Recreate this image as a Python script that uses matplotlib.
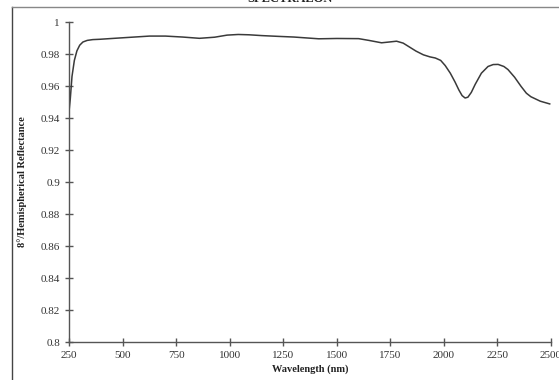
import matplotlib
matplotlib.use("Agg")
import matplotlib.pyplot as plt
from matplotlib.lines import Line2D

wavelength = [250, 256, 264, 275, 287, 300, 315, 335, 361, 394, 450, 520, 626, 700, 780, 859,
              930, 988, 1040, 1091, 1150, 1230, 1300, 1416, 1500, 1602, 1650, 1709, 1745, 1779,
              1810, 1834, 1870, 1904, 1935, 1960, 1985, 2006, 2030, 2052, 2070, 2085, 2099,
              2112, 2128, 2146, 2175, 2206, 2230, 2253, 2280, 2299, 2330, 2360, 2385, 2406,
              2450, 2494]
reflectance = [0.944, 0.952, 0.966, 0.976, 0.982, 0.9855, 0.9875, 0.9885, 0.989, 0.9892, 0.9897,
               0.9903, 0.9912, 0.9912, 0.9906, 0.9898, 0.9905, 0.9918, 0.9922, 0.9920, 0.9915,
               0.9910, 0.9906, 0.9895, 0.9897, 0.9896, 0.9885, 0.9870, 0.9875, 0.9880, 0.9868,
               0.9848, 0.9818, 0.9795, 0.9782, 0.9775, 0.9760, 0.9728, 0.9680, 0.9625, 0.9575,
               0.9540, 0.9525, 0.9530, 0.9560, 0.9610, 0.9680, 0.9722, 0.9734, 0.9735, 0.9722,
               0.9703, 0.9655, 0.9598, 0.9555, 0.9533, 0.9505, 0.9488]

xticks = [250, 500, 750, 1000, 1250, 1500, 1750, 2000, 2250, 2500]
yticks = [0.8, 0.82, 0.84, 0.86, 0.88, 0.9, 0.92, 0.94, 0.96, 0.98, 1.0]
ytick_labels = ["0.8", "0.82", "0.84", "0.86", "0.88", "0.9", "0.92", "0.94", "0.96", "0.98", "1"]

fig = plt.figure(figsize=(5.59, 3.80), dpi=100)
ax = fig.add_axes([69/559, 38/380, (551-69)/559, (342-22)/380])

ax.plot(wavelength, reflectance, color="#3a3a3a", lw=1.1)
ax.set_xlim(250, 2500)
ax.set_ylim(0.8, 1.0)
ax.set_xticks(xticks)
ax.set_yticks(yticks)
ax.set_yticklabels(ytick_labels)
for s in ["top", "right"]:
    ax.spines[s].set_visible(False)
for s in ["left", "bottom"]:
    ax.spines[s].set_color("#555555")
    ax.spines[s].set_linewidth(1.0)
ax.tick_params(direction="inout", length=6, width=1.0, color="#555555",
               labelsize=8, labelcolor="#333333")
for lbl in ax.get_xticklabels() + ax.get_yticklabels():
    lbl.set_family("Liberation Serif")

ax.set_xlabel("Wavelength (nm)", family="Liberation Serif", fontweight="bold",
              fontsize=7.5, color="#222222", labelpad=3)
ax.set_ylabel("8°/Hemispherical Reflectance", family="Liberation Serif", fontweight="bold",
              fontsize=7.5, color="#222222", labelpad=10)

# page frame
fig.add_artist(Line2D([12/559, 12/559], [0, 1 - 7/380], color="#444444", lw=1.0,
                      transform=fig.transFigure))
fig.add_artist(Line2D([12/559, 1], [1 - 7/380, 1 - 7/380], color="#888888", lw=1.0,
                      transform=fig.transFigure))
fig.text(290/559, 1 + 1/380, "SPECTRALON", ha="center", va="center",
         family="Liberation Serif", fontweight="bold", fontsize=9, color="#222222")

fig.savefig("out.png", dpi=100)
